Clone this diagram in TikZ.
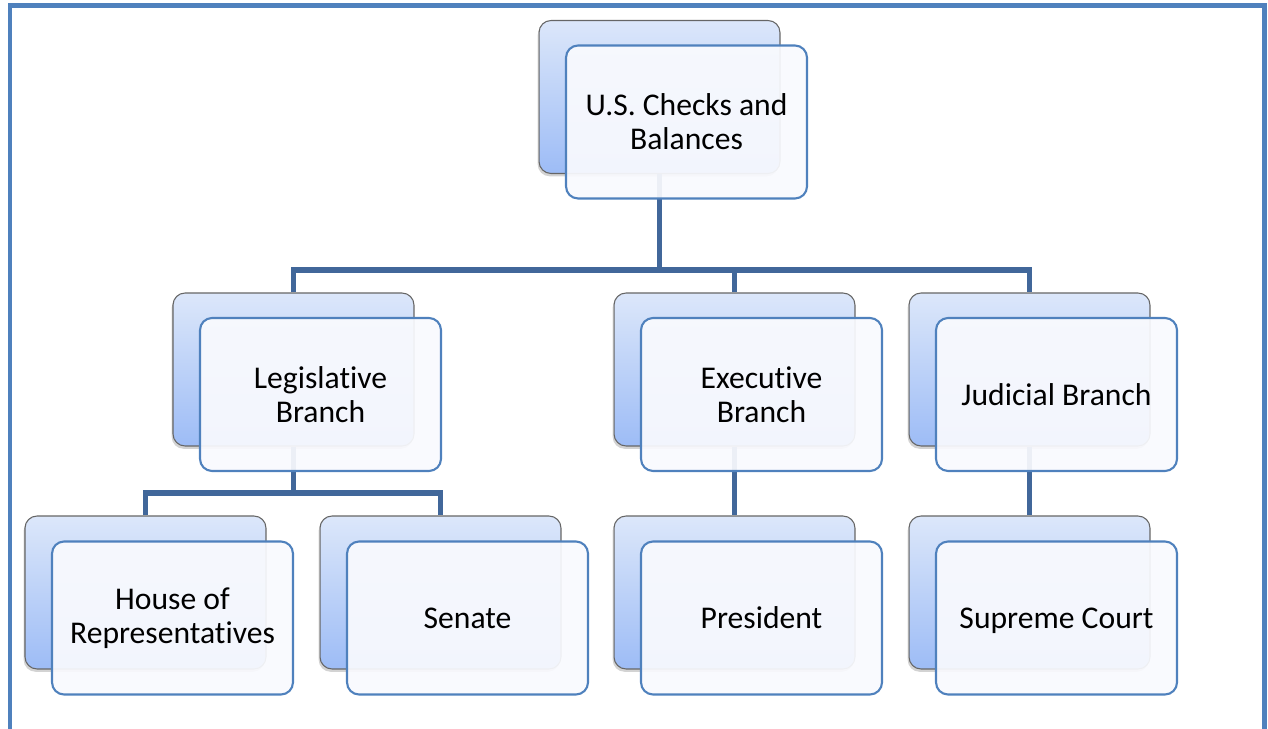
\documentclass[tikz,border=0pt]{standalone}
\usepackage{fontspec}
\setmainfont[RawFeature={-liga;-clig;-calt}]{Carlito}
\usetikzlibrary{shadows}
\definecolor{frameblue}{HTML}{4F81BD}
\definecolor{linkblue}{HTML}{41679A}
\definecolor{backtop}{HTML}{DCE7FA}
\definecolor{backbot}{HTML}{9DBCF6}
\definecolor{frontfill}{HTML}{F9FAFE}

\begin{document}
\begin{tikzpicture}[x=0.02cm,y=-0.02cm,
  back/.style={shape=rectangle,rounded corners=0.24cm,draw=gray!80!black,line width=0.6pt,
    top color=backtop,bottom color=backbot,minimum width=4.82cm,minimum height=3.06cm,
    drop shadow={shadow xshift=-0.8pt,shadow yshift=-1.6pt,opacity=0.35}},
  front/.style={shape=rectangle,rounded corners=0.24cm,draw=frameblue,line width=1.2pt,
    fill=frontfill,fill opacity=0.93,text opacity=1,minimum width=4.82cm,minimum height=3.06cm,
    align=center,font=\fontsize{18}{19.4}\selectfont},
  link/.style={draw=linkblue,line width=3pt}]
\useasboundingbox (0,0) rectangle (1268,729);
% outer frame
\draw [frameblue,line width=2.6pt] (10,740) -- (10,5.5) -- (1264.5,5.5) -- (1264.5,740);

% back boxes
\node (top)   at (659.5, 97)   [back] {};
\node (leg)   at (293.5, 369.5) [back] {};
\node (exe)   at (734.5, 369.5) [back] {};
\node (jud)   at (1029.5,369.5) [back] {};
\node (house) at (145.5, 592.5) [back] {};
\node (sen)   at (440.5, 592.5) [back] {};
\node (pres)  at (734.5, 592.5) [back] {};
\node (sup)   at (1029.5,592.5) [back] {};

% connectors
\coordinate (bar1) at (659.5,270);
\coordinate (bar2) at (293.5,493);
\draw [link] (top.south) -- (bar1);
\draw [link] (leg.north) |- (bar1) -| (jud.north);
\draw [link] (exe.north) -- (exe.north |- bar1);
\draw [link] (leg.south) -- (bar2);
\draw [link] (house.north) |- (bar2) -| (sen.north);
\draw [link] (exe.south) -- (pres.north);
\draw [link] (jud.south) -- (sup.north);

% front boxes
\node (top-f)   at (686.5, 122)   [front] {U.S. Checks and\\Balances};
\node (leg-f)   at (320.5, 394.5) [front] {Legislative\\Branch};
\node (exe-f)   at (761.5, 394.5) [front] {Executive\\Branch};
\node (jud-f)   at (1056.5,394.5) [front] {Judicial Branch};
\node (house-f) at (172.5, 618)   [front] {House of\\Representatives};
\node (sen-f)   at (467.5, 618)   [front] {Senate};
\node (pres-f)  at (761.5, 618)   [front] {President};
\node (sup-f)   at (1056.5,618)   [front,text depth=0pt] {Supreme Court};
\end{tikzpicture}
\end{document}
